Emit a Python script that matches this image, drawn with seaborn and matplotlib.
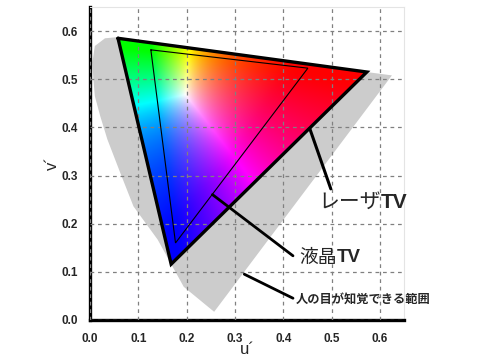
import matplotlib
matplotlib.use("Agg")
import matplotlib.pyplot as plt
import seaborn as sns
import numpy as np
import pandas as pd
from matplotlib.patches import Polygon

# === Datos ===
# contorno del rango visible (gris)
locus_u = [0.257, 0.194, 0.140, 0.090, 0.0625, 0.036, 0.021, 0.010, 0.007,
           0.005, 0.010, 0.031, 0.058, 0.26, 0.40, 0.52, 0.625]
locus_v = [0.017, 0.069, 0.167, 0.236, 0.306, 0.375, 0.424, 0.465, 0.500,
           0.535, 0.569, 0.585, 0.5875, 0.560, 0.539, 0.522, 0.508]

# gamut レーザTV (G, R, B)
laser_u = [0.058, 0.573, 0.168]
laser_v = [0.585, 0.515, 0.116]

# gamut 液晶TV (G, R, B)
lcd_u = [0.126, 0.451, 0.177]
lcd_v = [0.561, 0.523, 0.160]

ticks = [0.0, 0.1, 0.2, 0.3, 0.4, 0.5, 0.6]
tick_labels = ["0.0", "0.1", "0.2", "0.3", "0.4", "0.5", "0.6"]

sns.set_style("white")
plt.rcParams["font.family"] = ["Liberation Sans", "Noto Sans CJK JP", "DejaVu Sans"]

fig = plt.figure(figsize=(4.81, 3.61), dpi=100)
ax = fig.add_axes([90 / 481, 41 / 361, 314 / 481, 313 / 361])
lim = 0.65

# === Rango visible ===
ax.fill(locus_u, locus_v, color="#cccccc", lw=0, zorder=1)

# === Relleno de color (cromaticidad u'v' -> sRGB) ===
n = 500
uu, vv = np.meshgrid(np.linspace(0, lim, n), np.linspace(0, lim, n))
d = 6 * uu - 16 * vv + 12
x = 9 * uu / d
y = np.clip(4 * vv / d, 1e-4, None)
z = 1 - x - y
XYZ = np.stack([x / y, np.ones_like(x), z / y], axis=-1)
M = np.array([[3.2406, -1.5372, -0.4986],
              [-0.9689, 1.8758, 0.0415],
              [0.0557, -0.2040, 1.0570]])
rgb = np.clip(XYZ @ M.T, 0, None)
rgb = rgb / np.clip(rgb.max(axis=-1, keepdims=True), 1e-6, None)
rgb = rgb ** 2.0  # más saturado, como en la referencia
rgb = np.where(rgb <= 0.0031308, 12.92 * rgb, 1.055 * rgb ** (1 / 2.4) - 0.055)
rgb = np.clip(rgb, 0, 1)
img = ax.imshow(rgb, extent=[0, lim, 0, lim], origin="lower", zorder=1.5,
                interpolation="bilinear", aspect="auto")
tri = Polygon(np.column_stack([laser_u, laser_v]), closed=True, transform=ax.transData)
img.set_clip_path(tri)

# === Contornos de los triángulos ===
laser_df = pd.DataFrame({"u": laser_u + laser_u[:1], "v": laser_v + laser_v[:1]})
lcd_df = pd.DataFrame({"u": lcd_u + lcd_u[:1], "v": lcd_v + lcd_v[:1]})
sns.lineplot(data=laser_df, x="u", y="v", sort=False, estimator=None, ax=ax,
             color="black", lw=2.4, zorder=4, solid_joinstyle="miter")
sns.lineplot(data=lcd_df, x="u", y="v", sort=False, estimator=None, ax=ax,
             color="black", lw=0.8, zorder=4, solid_joinstyle="miter")

# === Líneas de anotación y textos ===
ax.plot([0.4548, 0.4985], [0.3979, 0.2723], color="black", lw=2.2, zorder=4)
ax.plot([0.2535, 0.4202], [0.2604, 0.1333], color="black", lw=2.0, zorder=4)
ax.plot([0.3194, 0.4202], [0.0951, 0.0452], color="black", lw=2.0, zorder=4)

t1 = ax.text(0.473, 0.245, "レーザ", fontsize=15, family="Noto Sans CJK JP",
             ha="left", va="center", zorder=5)
ax.annotate("TV", xy=(1, 0.5), xycoords=t1, fontsize=15, fontweight="bold",
            ha="left", va="center", zorder=5)
t2 = ax.text(0.433, 0.129, "液晶", fontsize=13.5, family="Noto Sans CJK JP",
             ha="left", va="center", zorder=5)
ax.annotate("TV", xy=(1, 0.5), xycoords=t2, fontsize=13.5, fontweight="bold",
            ha="left", va="center", zorder=5)
ax.text(0.425, 0.044, "人の目が知覚できる範囲", fontsize=8.8, fontweight="bold",
        family="Noto Sans CJK JP", ha="left", va="center", zorder=5)

# === Ejes ===
ax.set_xlim(0, lim)
ax.set_ylim(0, lim)
ax.set_xticks(ticks)
ax.set_yticks(ticks)
ax.set_xticklabels(tick_labels, fontweight="bold", fontsize=8.5)
ax.set_yticklabels(tick_labels, fontweight="bold", fontsize=8.5)
ax.tick_params(direction="in", length=4, width=1.6, pad=9, color="black")
ax.set_axisbelow(False)
ax.grid(True, color="#808080", linestyle=(0, (3, 3)), lw=0.9)
for s in ["left", "bottom"]:
    ax.spines[s].set_linewidth(2.4)
    ax.spines[s].set_color("black")
for s in ["top", "right"]:
    ax.spines[s].set_linewidth(0.8)
    ax.spines[s].set_color("#e4e4e4")
ax.set_xlabel("u´", fontsize=12, labelpad=-2)
ax.set_ylabel("v´", fontsize=12, labelpad=1)

fig.savefig("out.png", dpi=100)
